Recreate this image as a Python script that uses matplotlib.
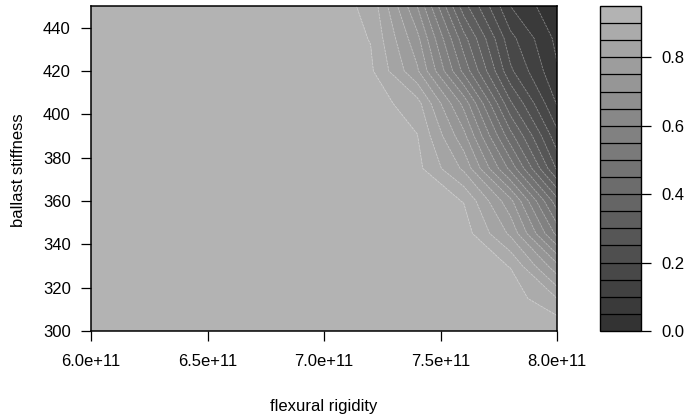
import numpy as np
import matplotlib
matplotlib.use("Agg")
import matplotlib.pyplot as plt

plt.rcParams["font.family"] = ["Liberation Sans", "DejaVu Sans"]

# ------------------------------------------------------------------ #
# Data (grid)
# ------------------------------------------------------------------ #
rigidity = [6.0e11, 6.2e11, 6.4e11, 6.6e11, 6.8e11, 7.0e11,
            7.2e11, 7.4e11, 7.6e11, 7.8e11, 8.0e11]
stiffness = [300, 315, 330, 345, 360, 375, 390, 405, 420, 435, 450]

# rows = stiffness (300 -> 450), cols = rigidity (6.0e11 -> 8.0e11)
z_rows = [
    [0.93, 0.93, 0.93, 0.93, 0.93, 0.93, 0.93,  0.93,  0.93,  0.935, 0.945],  # 300
    [0.93, 0.93, 0.93, 0.93, 0.93, 0.93, 0.93,  0.93,  0.93,  0.93,  0.85],   # 315
    [0.93, 0.93, 0.93, 0.93, 0.93, 0.93, 0.93,  0.93,  0.93,  0.898, 0.715],  # 330
    [0.93, 0.93, 0.93, 0.93, 0.93, 0.93, 0.93,  0.93,  0.925, 0.79,  0.535],  # 345
    [0.93, 0.93, 0.93, 0.93, 0.93, 0.93, 0.93,  0.93,  0.898, 0.715, 0.419],  # 360
    [0.93, 0.93, 0.93, 0.93, 0.93, 0.93, 0.93,  0.915, 0.79,  0.535, 0.243],  # 375
    [0.93, 0.93, 0.93, 0.93, 0.93, 0.93, 0.93,  0.902, 0.715, 0.419, 0.166],  # 390
    [0.93, 0.93, 0.93, 0.93, 0.93, 0.93, 0.928, 0.87,  0.634, 0.309, 0.096],  # 405
    [0.93, 0.93, 0.93, 0.93, 0.93, 0.93, 0.909, 0.758, 0.485, 0.21,  0.055],  # 420
    [0.93, 0.93, 0.93, 0.93, 0.93, 0.93, 0.898, 0.715, 0.419, 0.166, 0.037],  # 435
    [0.93, 0.93, 0.93, 0.93, 0.93, 0.93, 0.887, 0.65,  0.32,  0.10,  0.01],   # 450
]

levels = [0.0, 0.05, 0.10, 0.15, 0.20, 0.25, 0.30, 0.35, 0.40, 0.45,
          0.50, 0.55, 0.60, 0.65, 0.70, 0.75, 0.80, 0.85, 0.90, 0.95]

x_ticks = [6.0e11, 6.5e11, 7.0e11, 7.5e11, 8.0e11]
x_labels = ["6.0e+11", "6.5e+11", "7.0e+11", "7.5e+11", "8.0e+11"]
y_ticks = [300, 320, 340, 360, 380, 400, 420, 440]
cb_ticks = [0.0, 0.2, 0.4, 0.6, 0.8]

# grey ramp, gray20 -> gray70
n_bands = len(levels) - 1
greys = [str(0.2 + 0.5 * i / (n_bands - 1)) for i in range(n_bands)]

FS = 12
TICK = 7.5

# ------------------------------------------------------------------ #
# Figure
# ------------------------------------------------------------------ #
W, H = 685, 417
fig = plt.figure(figsize=(W / 100, H / 100), dpi=100)

def px_axes(l, t, r, b):
    return fig.add_axes([l / W, 1 - b / H, (r - l) / W, (b - t) / H])

ax = px_axes(91, 6, 557, 331)
cax = px_axes(600, 6, 641, 331)

X, Y = np.meshgrid(rigidity, stiffness)
Z = np.array(z_rows)

cs = ax.contourf(X, Y, Z, levels=levels, colors=greys)
# faint light seams between the filled bands
ax.contour(X, Y, Z, levels=levels[1:-1], colors="white", linewidths=0.6,
           alpha=0.35, linestyles=[(0, (3, 1))])

ax.set_xlim(rigidity[0], rigidity[-1])
ax.set_ylim(stiffness[0], stiffness[-1])
ax.set_xticks(x_ticks)
ax.set_xticklabels(x_labels)
ax.set_yticks(y_ticks)
ax.tick_params(direction="out", length=TICK, width=0.9, labelsize=FS, pad=9)
ax.tick_params(axis="y", pad=7)
for sp in ax.spines.values():
    sp.set_linewidth(1.1)

fig.text(324 / W, 1 - 407 / H, "flexural rigidity", ha="center", va="center", fontsize=FS)
fig.text(19 / W, 1 - 170 / H, "ballast stiffness", ha="center", va="center",
         rotation=90, fontsize=FS)

# ------------------------------------------------------------------ #
# Key
# ------------------------------------------------------------------ #
cb = fig.colorbar(cs, cax=cax, drawedges=True)
cb.dividers.set_color("black")
cb.dividers.set_linewidth(0.9)
cb.outline.set_linewidth(1.0)
cb.set_ticks(cb_ticks)
cb.set_ticklabels(["0.0", "0.2", "0.4", "0.6", "0.8"])
cax.tick_params(direction="out", length=TICK, width=0.9, labelsize=FS, pad=7)

plt.savefig("out.png", dpi=100)
plt.close()
